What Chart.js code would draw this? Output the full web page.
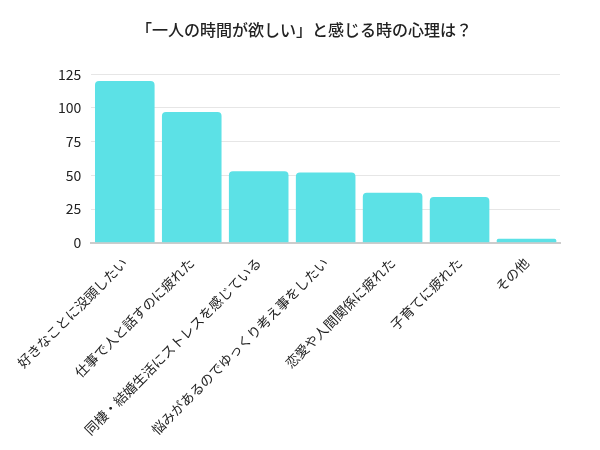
<!DOCTYPE html>
<html>
<head>
<meta charset="utf-8">
<script src="https://cdn.jsdelivr.net/npm/chart.js@4/dist/chart.umd.min.js"></script>
<style>
  html, body { margin: 0; padding: 0; background: #fff; }
  #wrap { width: 600px; height: 450px; }
</style>
</head>
<body>
<div id="wrap"><canvas id="chart"></canvas></div>
<script>
// data
const categories = [
    '好きなことに没頭したい',
    '仕事で人と話すのに疲れた',
    '同棲・結婚生活にストレスを感じている',
    '悩みがあるのでゆっくり考え事をしたい',
    '恋愛や人間関係に疲れた',
    '子育てに疲れた',
    'その他'
];
const counts = [120, 97, 53, 52, 37, 34, 3];
const yTicks = [0, 25, 50, 75, 100, 125];

const font = "'Noto Sans CJK JP', 'Noto Sans', sans-serif";

new Chart(document.getElementById('chart'), {
    type: 'bar',
    data: {
        labels: categories,
        datasets: [{
            data: counts,
            backgroundColor: '#5ce1e6',
            borderRadius: 4,
            borderSkipped: 'bottom',
            barPercentage: 0.89,
            categoryPercentage: 1.0
        }]
    },
    options: {
        responsive: true,
        maintainAspectRatio: false,
        animation: false,
        layout: { padding: { left: 48, right: 40, top: 10, bottom: 8 } },
        plugins: {
            legend: { display: false },
            tooltip: { enabled: false },
            title: {
                display: true,
                text: '「一人の時間が欲しい」と感じる時の心理は？',
                color: '#222',
                font: { family: font, size: 16, weight: '500' },
                padding: { top: 10, bottom: 35 }
            }
        },
        scales: {
            y: {
                min: 0,
                max: 125,
                afterBuildTicks: axis => { axis.ticks = yTicks.map(v => ({ value: v })); },
                grid: { color: '#e6e6e6', drawTicks: false },
                border: { display: false },
                ticks: { color: '#222', font: { family: font, size: 14 }, padding: 10 }
            },
            x: {
                grid: { display: false },
                border: { color: '#cccccc', width: 2 },
                ticks: {
                    color: '#222',
                    font: { family: font, size: 13.5 },
                    maxRotation: 45,
                    minRotation: 45,
                    autoSkip: false,
                    padding: 4
                }
            }
        }
    }
});
</script>
</body>
</html>
